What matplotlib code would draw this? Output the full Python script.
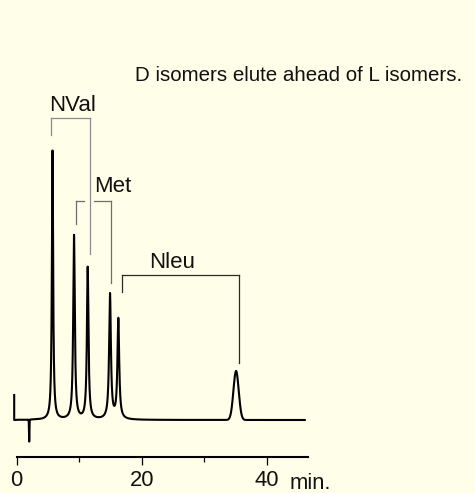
"""
Chiral separation of amino acid isomers: chromatogram with
bracketed D/L peak pairs for NVal, Met and Nleu.
"""
import numpy as np
import matplotlib
matplotlib.use("Agg")
import matplotlib.pyplot as plt

# peaks (retention time in min, height in detector units)
peak_times = [5.73, 9.17, 11.36, 14.93, 16.26, 35.1]
peak_heights = [269, 184, 152, 125, 100, 49]
peak_widths = [0.12, 0.15, 0.15, 0.17, 0.17, 0.42]
peak_kinds = ["lor", "lor", "lor", "lor", "lor", "gauss"]

# injection artefacts
start_time = -0.4
start_level = 25
dip_time = 2.0
dip_depth = -22
end_time = 46.1

# pair brackets: (left t, left bottom, right t, right bottom, top, gap)
brackets = {
    "NVal": dict(x0=5.49, y0=285, x1=11.65, y1=166, top=301.7, gap=None,
                 color="#8c8c8c", label_x=8.88, label_y=309),
    "Met": dict(x0=9.41, y0=196, x1=15.09, y1=136.7, top=219, gap=(10.77, 12.42),
                color="#6e6e6e", label_x=15.36, label_y=228.3),
    "Nleu": dict(x0=16.8, y0=128.3, x1=35.62, y1=56.7, top=145, gap=None,
                 color="#2a2a2a", label_x=24.93, label_y=152.3),
}

note = "D isomers elute ahead of L isomers."
major_ticks = [0, 20, 40]
minor_ticks = [10, 30]
unit = "min."

bg = "#fffee8"
plt.rcParams["font.family"] = ["Liberation Sans", "DejaVu Sans"]


def trace():
    t = np.arange(0.0, end_time, 0.005)
    y = np.zeros_like(t)
    for c, h, w, k in zip(peak_times, peak_heights, peak_widths, peak_kinds):
        if k == "lor":
            y += h * w**2 / ((t - c) ** 2 + w**2)
        else:
            y += h * np.exp(-0.5 * ((t - c) / w) ** 2)
    y += dip_depth * np.exp(-0.5 * ((t - dip_time) / 0.035) ** 2)
    t = np.concatenate([[start_time, start_time], t])
    y = np.concatenate([[start_level, 0], y])
    return t, y


def main():
    fig = plt.figure(figsize=(4.75, 4.93), dpi=100, facecolor=bg)
    ax = fig.add_axes([0, 0, 1, 1], facecolor=bg)
    ax.set_xlim(-2.672, 73.33)
    ax.set_ylim(-73, 420)

    t, y = trace()
    ax.plot(t, y, color="black", lw=1.5)

    for name, b in brackets.items():
        c = b["color"]
        ax.plot([b["x0"], b["x0"]], [b["y0"], b["top"]], color=c, lw=0.9)
        ax.plot([b["x1"], b["x1"]], [b["y1"], b["top"]], color=c, lw=0.9)
        if b["gap"] is None:
            ax.plot([b["x0"], b["x1"]], [b["top"], b["top"]], color=c, lw=0.9)
        else:
            ax.plot([b["x0"], b["gap"][0]], [b["top"], b["top"]], color=c, lw=0.9)
            ax.plot([b["gap"][1], b["x1"]], [b["top"], b["top"]], color=c, lw=0.9)
        ax.text(b["label_x"], b["label_y"], name, fontsize=16, ha="center",
                va="baseline", color="#111111")

    ax.text(18.93, 339.3, note, fontsize=14.8, ha="left", va="baseline",
            color="#111111")

    for s in ["left", "right", "top"]:
        ax.spines[s].set_visible(False)
    ax.spines["bottom"].set_position(("data", -36.7))
    ax.spines["bottom"].set_bounds(0, 46.6)
    ax.spines["bottom"].set_linewidth(1.5)
    ax.set_yticks([])
    ax.set_xticks(major_ticks)
    ax.set_xticks(minor_ticks, minor=True)
    ax.tick_params(axis="x", which="major", direction="out", length=5.8,
                   width=0.9, pad=4, labelsize=15.8, labelcolor="#111111")
    ax.tick_params(axis="x", which="minor", direction="out", length=3.6,
                   width=0.9)
    ax.text(43.7, -69, unit, fontsize=15.8, ha="left", va="baseline",
            color="#111111")

    fig.savefig("out.png", dpi=100, facecolor=bg)


if __name__ == "__main__":
    main()
